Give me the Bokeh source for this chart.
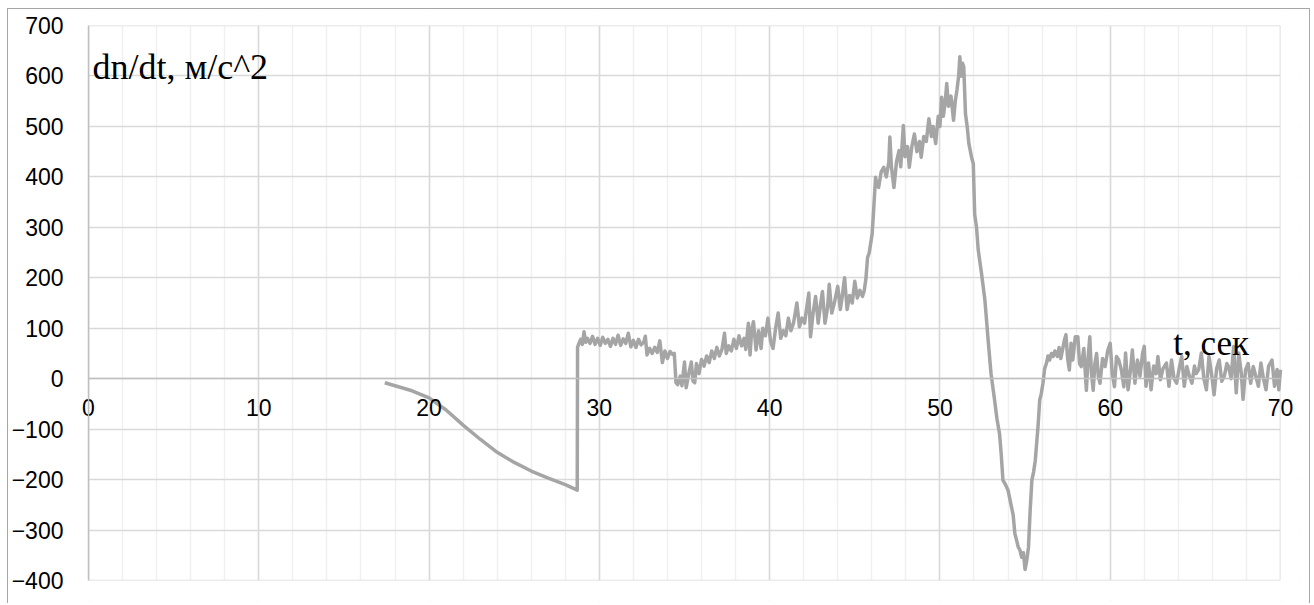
from bokeh.plotting import figure
from bokeh.models import FixedTicker, Label, Range1d, ColumnDataSource, BoxAnnotation
from bokeh.embed import file_html
from bokeh.resources import INLINE

# time, s
t = [17.4, 18, 19, 20, 21, 22, 23, 24, 25, 26, 27, 28, 28.7,
     28.72, 28.8, 28.9, 29.0, 29.1, 29.2, 29.3, 29.45, 29.6, 29.75, 29.9, 30.05, 30.2, 30.35, 30.5, 30.65,
     30.8, 30.95, 31.1, 31.25, 31.4, 31.55, 31.7, 31.85, 32.0, 32.15, 32.3, 32.45, 32.6, 32.7, 32.8, 32.95,
     33.1, 33.25, 33.4, 33.55, 33.7, 33.85, 34.0, 34.15, 34.3, 34.4, 34.5, 34.6, 34.75, 34.85, 35.0, 35.1,
     35.25, 35.4, 35.5, 35.6, 35.7, 35.85, 36.0, 36.15, 36.3, 36.45, 36.6, 36.75, 36.9, 37.05, 37.2, 37.35,
     37.45, 37.6, 37.75, 37.9, 38.05, 38.2, 38.35, 38.5, 38.6, 38.75, 38.85, 38.95, 39.05, 39.2, 39.35, 39.5,
     39.6, 39.75, 39.9, 40.05, 40.2, 40.35, 40.5, 40.65, 40.8, 40.95, 41.1, 41.25, 41.4, 41.6, 41.75, 41.9,
     42.05, 42.3, 42.4, 42.55, 42.7, 42.85, 43.0, 43.1, 43.25, 43.4, 43.5, 43.65, 43.8, 44.0, 44.15, 44.25,
     44.4, 44.55, 44.7, 44.85, 45.0, 45.15, 45.3, 45.45, 45.55, 45.65, 45.75, 45.85, 46.02, 46.1, 46.22, 46.3,
     46.4, 46.55, 46.7, 46.85, 47.0, 47.06, 47.15, 47.3, 47.45, 47.6, 47.7, 47.85, 47.95, 48.1, 48.2, 48.35,
     48.5, 48.65, 48.8, 48.9, 49.05, 49.2, 49.35, 49.5, 49.6, 49.75, 49.9, 50.0, 50.1, 50.2, 50.3, 50.4,
     50.5, 50.65, 50.8, 50.9, 51.0, 51.1, 51.17, 51.25, 51.33, 51.4, 51.5, 51.6, 51.7, 51.85, 51.96, 52.04,
     52.15, 52.25, 52.44, 52.55, 52.64, 52.83, 53.0, 53.2, 53.35, 53.5, 53.6, 53.7, 53.85, 54.0, 54.2, 54.3,
     54.4, 54.5, 54.6, 54.7, 54.8, 54.9, 55.0, 55.1, 55.2, 55.3, 55.4, 55.5, 55.6, 55.7, 55.76, 55.86,
     55.95, 56.05, 56.15, 56.25, 56.35, 56.44, 56.55, 56.65, 56.75, 56.9, 57.0, 57.1, 57.2, 57.3, 57.4, 57.5,
     57.6, 57.7, 57.8, 57.95, 58.1, 58.2, 58.3, 58.45, 58.6, 58.7, 58.8, 58.9, 59.0, 59.1, 59.2, 59.3,
     59.4, 59.55, 59.7, 59.85, 60.0, 60.12, 60.25, 60.37, 60.5, 60.65, 60.8, 60.9, 61.05, 61.2, 61.3, 61.45,
     61.6, 61.75, 61.9, 62.0, 62.1, 62.25, 62.4, 62.55, 62.7, 62.8, 62.95, 63.1, 63.3, 63.45, 63.6, 63.75,
     63.9, 64.05, 64.2, 64.35, 64.5, 64.65, 64.8, 64.95, 65.05, 65.2, 65.35, 65.5, 65.65, 65.8, 65.95, 66.1,
     66.25, 66.4, 66.55, 66.7, 66.85, 66.95, 67.1, 67.25, 67.4, 67.55, 67.7, 67.8, 67.95, 68.1, 68.25, 68.4,
     68.55, 68.7, 68.85, 69.0, 69.15, 69.3, 69.5, 69.65, 69.8, 69.9, 70.0]

# dn/dt, m/s^2
dndt = [-8, -14, -24, -38, -62, -92, -120, -146, -166, -183, -197, -210, -221,
        62, 70, 78, 68, 93, 72, 80, 70, 84, 68, 80, 66, 82, 70, 78, 64,
        80, 68, 86, 66, 79, 70, 90, 63, 76, 62, 78, 67, 72, 84, 47, 60,
        50, 62, 52, 75, 32, 55, 40, 54, 48, 50, -8, -12, 5, -14, 33, -18,
        10, 33, -5, -8, 30, 10, 38, 25, 45, 32, 55, 40, 62, 45, 58, 90,
        50, 65, 55, 78, 60, 85, 65, 80, 58, 110, 47, 98, 113, 57, 95, 60,
        100, 85, 120, 75, 60, 100, 130, 80, 95, 85, 120, 95, 110, 150, 103, 120,
        110, 170, 83, 130, 163, 110, 150, 173, 110, 140, 187, 130, 150, 183, 137, 160,
        200, 137, 165, 150, 193, 160, 175, 163, 174, 197, 240, 250, 287, 330, 399, 385,
        379, 410, 419, 400, 430, 479, 420, 379, 430, 452, 420, 502, 440, 460, 419, 460,
        485, 450, 470, 439, 480, 470, 515, 480, 500, 466, 520, 500, 558, 520, 545, 585,
        540, 560, 512, 550, 572, 600, 638, 600, 625, 618, 525, 500, 466, 440, 426, 326,
        300, 255, 209, 180, 156, 77, 10, -40, -80, -109, -150, -201, -210, -221, -254, -270,
        -307, -320, -334, -340, -354, -345, -378, -360, -334, -260, -201, -185, -162, -120, -95, -42,
        -30, -9, 20, 30, 45, 37, 50, 44, 55, 44, 62, 40, 57, 75, 87, 40,
        17, 70, 37, 83, 83, 30, 24, 60, -23, 40, 83, 10, -23, 30, 50, 5,
        -9, 40, 24, 55, 70, 10, -16, 44, 37, 18, -16, 51, -22, 20, 57, -9,
        37, 5, 50, 64, -15, 31, -22, 25, 10, 44, -2, 20, 31, -15, 37, 0,
        -9, 20, 44, -15, 24, 5, -9, 25, 10, 18, 51, 0, -22, 44, 10, -32,
        20, 37, -5, 5, 30, 24, 0, 64, -28, 51, 10, -41, 18, 30, -9, 24,
        5, -15, 31, 0, -22, 25, 37, -15, 18, -22, 18]

x_ticks = [0, 10, 20, 30, 40, 50, 60, 70]
x_minor = list(range(0, 71, 2))
y_ticks = [-400, -300, -200, -100, 0, 100, 200, 300, 400, 500, 600, 700]
x_lo, x_hi = 0, 70
y_lo, y_hi = -400, 700

# ---- layout (page pixels) ----
# plot area (data box) in the reference: x 88..1280, y 25..580
DL, DR, DT, DB = 88, 1280, 25, 580
# bokeh frame made a bit larger so that tick labels at the edges are not clipped
FL, FR, FT, FB = 10, 1300, 10, 600
ppx = (DR - DL) / (x_hi - x_lo)
ppy = (DB - DT) / (y_hi - y_lo)
xr = Range1d(x_lo - (DL - FL) / ppx, x_hi + (FR - DR) / ppx)
yr = Range1d(y_lo - (FB - DB) / ppy, y_hi + (DT - FT) / ppy)

W, H = 1303, 595           # content box, starts at page (8, 9)
p = figure(width=W, height=H, output_backend="svg", toolbar_location=None,
           x_range=xr, y_range=yr,
           min_border_left=FL - 8, min_border_right=(8 + W) - FR,
           min_border_top=FT - 9, min_border_bottom=(9 + H) - FB)
p.styles = {"margin-left": "7px", "margin-top": "8px",
            "border-top": "1px solid #A6A6A6", "border-left": "1px solid #A6A6A6",
            "border-right": "1px solid #A6A6A6"}
p.outline_line_color = None
p.background_fill_color = "white"
p.border_fill_color = "white"

p.xaxis.ticker = FixedTicker(ticks=x_ticks, minor_ticks=x_minor)
p.yaxis.ticker = FixedTicker(ticks=y_ticks)
p.xaxis.fixed_location = 0
p.yaxis.fixed_location = 0
p.xaxis.bounds = (x_lo, x_hi)
p.yaxis.bounds = (y_lo, y_hi)

for ax in (p.xaxis, p.yaxis):
    ax.major_tick_out = 0
    ax.major_tick_in = 0
    ax.minor_tick_out = 0
    ax.minor_tick_in = 0
    ax.axis_line_color = "#BFBFBF"
    ax.axis_line_width = 1.5
    ax.major_label_text_font = "Liberation Sans"
    ax.major_label_text_font_size = "23px"
    ax.major_label_text_color = "#000000"

p.xaxis.major_label_standoff = 20
p.yaxis.major_label_standoff = 25

p.xgrid.grid_line_color = "#D9D9D9"
p.xgrid.grid_line_width = 1.5
p.xgrid.minor_grid_line_color = "#F0F0F0"
p.xgrid.minor_grid_line_width = 1.5
p.ygrid.grid_line_color = "#D9D9D9"
p.ygrid.grid_line_width = 1.5

# white masks outside the plot box so the grid stops at the data bounds
for kw in (dict(bottom=y_hi), dict(top=y_lo), dict(right=x_lo), dict(left=x_hi)):
    p.add_layout(BoxAnnotation(level="underlay", fill_color="white", fill_alpha=1.0,
                               line_color=None, **kw))

p.line("t", "v", source=ColumnDataSource(dict(t=t, v=dndt)),
       line_color="#A5A5A5", line_width=3.5, line_join="round")

p.add_layout(Label(x=0.23, y=617, text="dn/dt, м/с^2", text_font="Liberation Serif",
                   text_font_size="36px", text_color="#000000", text_baseline="alphabetic"))
p.add_layout(Label(x=63.7, y=70, text="t, сек", text_font="Liberation Serif",
                   text_font_size="35px", text_color="#000000", text_baseline="alphabetic"))

open("out.html", "w").write(file_html(p, INLINE))
